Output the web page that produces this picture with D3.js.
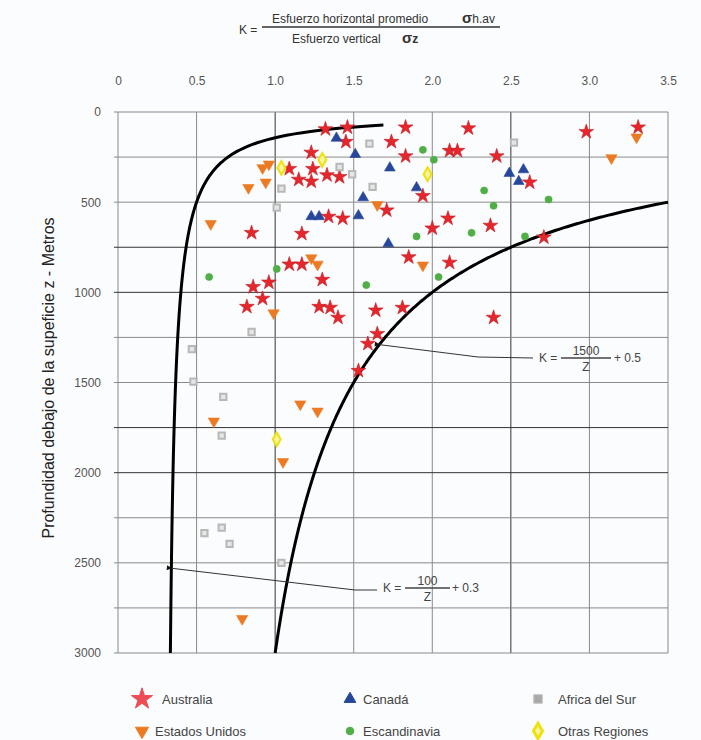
<!DOCTYPE html>
<html>
<head>
<meta charset="utf-8">
<script src="https://cdn.jsdelivr.net/npm/d3@7"></script>
<style>
body{margin:0;background:#fbfcfd}
text{font-family:"Liberation Sans",Arial,sans-serif}
</style>
</head>
<body>
<svg id="chart" width="701" height="740"></svg>
<script>
// tick labels
var kTicks = [0, 0.5, 1, 1.5, 2, 2.5, 3, 3.5]
var kTickLabels = ["0", "0.5", "1.0", "1.5", "2.0", "2.5", "3.0", "3.5"]
var zTicks = [0, 500, 1000, 1500, 2000, 2500, 3000]
var zGridLines = [0, 250, 500, 750, 1000, 1250, 1500, 1750, 2000, 2250, 2500, 2750, 3000]

// [K, z (m)]
var australia = [[1.32,95],[1.46,85],[1.45,165],[1.23,225],[1.09,315],[1.24,315],[1.15,375],
    [1.23,385],[1.33,350],[1.41,360],[1.34,580],[1.43,590],[0.85,670],[1.17,675],[1.09,845],
    [1.17,845],[1.30,930],[0.96,945],[0.86,970],[0.92,1035],[0.82,1080],[1.28,1080],[1.35,1085],
    [1.40,1140],[1.64,1100],[1.81,1085],[1.65,1230],[1.59,1285],[1.53,1435],[1.83,85],[1.74,165],
    [1.83,245],[1.71,545],[1.85,805],[2.23,90],[2.11,215],[2.16,215],[2.41,245],[2.98,110],
    [3.31,85],[2.62,390],[1.94,465],[2.10,590],[2.00,645],[2.37,630],[2.71,695],[2.11,835],[2.39,1140]]
var canada = [[1.39,145],[1.51,235],[1.73,310],[1.56,475],[1.23,580],[1.28,580],[1.53,575],
    [1.72,730],[2.49,340],[2.58,320],[2.55,385],[1.90,420]]
var estadosUnidos = [[0.92,310],[0.96,290],[0.94,390],[0.83,420],[0.59,620],[1.65,515],[1.23,810],
    [1.27,845],[0.99,1115],[3.30,140],[3.14,255],[1.94,850],[0.61,1715],[1.16,1620],[1.27,1660],
    [1.05,1940],[0.79,2810]]
var africaDelSur = [[1.60,175],[1.41,305],[1.49,345],[1.04,425],[1.01,530],[1.62,415],[0.85,1220],
    [0.47,1315],[0.48,1495],[0.67,1580],[0.66,1795],[0.55,2335],[0.66,2305],[0.71,2395],[1.04,2500],[2.52,170]]
var escandinavia = [[0.58,915],[1.01,870],[1.58,960],[1.94,210],[2.01,265],[2.33,435],[2.39,520],
    [2.74,485],[1.90,690],[2.25,670],[2.59,690],[2.04,915]]
var otrasRegiones = [[1.30,265],[1.04,310],[1.97,345],[1.01,1815]]

// K = a / z + b, as printed on the chart
var limitLow = {a: 100, b: 0.3, zFrom: 72}
var limitHigh = {a: 1500, b: 0.5, zFrom: 500}

var series = [
    {name: "Australia", data: australia, shape: d3.symbolStar, size: 68, fill: "#e5262c", stroke: "#c01c22", rot: 0, lsize: 140, lfill: "#ee4d55"},
    {name: "Canadá", data: canada, shape: d3.symbolTriangle, size: 50, fill: "#27479a", stroke: "#27479a", rot: 0, lsize: 60, lfill: "#27479a"},
    {name: "Africa del Sur", data: africaDelSur, shape: d3.symbolSquare, size: 40, fill: "#e6e6e6", stroke: "#b8b8b8", rot: 0, lsize: 70, lfill: "#a9a9a9"},
    {name: "Estados Unidos", data: estadosUnidos, shape: d3.symbolTriangle, size: 55, fill: "#ec7a22", stroke: "#ec7a22", rot: 180, lsize: 75, lfill: "#ec7a22"},
    {name: "Escandinavia", data: escandinavia, shape: d3.symbolCircle, size: 40, fill: "#4fae45", stroke: "#4fae45", rot: 0, lsize: 45, lfill: "#4fae45"},
    {name: "Otras Regiones", data: otrasRegiones, shape: d3.symbolDiamond, size: 55, fill: "#f7f3a0", stroke: "#ece20c", rot: 0, lsize: 70, lfill: "#f7f3a0"}
]

var svg = d3.select('#chart')
var x = d3.scaleLinear().domain([0, 3.5]).range([118, 668])
var y = d3.scaleLinear().domain([0, 3000]).range([112, 653])

svg.append('defs').append('marker')
    .attr('id', 'arrow')
    .attr('viewBox', '0 0 10 10')
    .attr('refX', 1).attr('refY', 5)
    .attr('markerWidth', 9).attr('markerHeight', 5)
    .attr('markerUnits', 'userSpaceOnUse')
    .attr('orient', 'auto-start-reverse')
    .append('path').attr('d', 'M0,5 L10,0 L10,10 Z').attr('fill', '#111')

// grid
var darkK = [1, 2.5]
var darkZ = [750, 1000, 1750, 2000]
var grid = svg.append('g')
grid.selectAll('line.v')
    .data(kTicks)
    .enter().append('line')
    .attr('x1', function(d){return x(d)}).attr('x2', function(d){return x(d)})
    .attr('y1', y(0)).attr('y2', y(3000))
    .attr('stroke', function(d){return darkK.indexOf(d) >= 0 ? '#333' : '#8a8a8a'})
    .attr('stroke-width', 1)
grid.selectAll('line.h')
    .data(zGridLines)
    .enter().append('line')
    .attr('x1', x(0) - 4).attr('x2', x(3.5))
    .attr('y1', function(d){return y(d)}).attr('y2', function(d){return y(d)})
    .attr('stroke', function(d){return darkZ.indexOf(d) >= 0 ? '#333' : '#8a8a8a'})
    .attr('stroke-width', 1)

// axes
var xAxis = svg.append('g')
    .attr('transform', 'translate(0,' + y(0) + ')')
    .call(d3.axisTop(x).tickValues(kTicks).tickSize(0).tickPadding(27)
          .tickFormat(function(d, i){return kTickLabels[i]}))
xAxis.select('.domain').remove()
xAxis.selectAll('text').attr('font-size', 12).attr('fill', '#555')
    .style('font-family', '"Liberation Sans",Arial,sans-serif')

var yAxis = svg.append('g')
    .attr('transform', 'translate(' + x(0) + ',0)')
    .call(d3.axisLeft(y).tickValues(zTicks).tickSize(0).tickPadding(17)
          .tickFormat(d3.format('d')))
yAxis.select('.domain').remove()
yAxis.selectAll('text').attr('font-size', 12).attr('fill', '#555')
    .style('font-family', '"Liberation Sans",Arial,sans-serif')

svg.append('text')
    .attr('transform', 'translate(54,' + 378 + ') rotate(-90)')
    .attr('text-anchor', 'middle')
    .attr('font-size', 16)
    .attr('fill', '#222')
    .text('Profundidad debajo de la supeficie z - Metros')

// limit curves
var line = d3.line()
    .x(function(d){return x(d[0])})
    .y(function(d){return y(d[1])})
function curvePoints(c){
    return d3.range(c.zFrom, 3001, 4).map(function(z){return [c.a / z + c.b, z]})
}
svg.append('path').datum(curvePoints(limitLow))
    .attr('d', line).attr('fill', 'none').attr('stroke', '#000').attr('stroke-width', 3)
svg.append('path').datum(curvePoints(limitHigh))
    .attr('d', line).attr('fill', 'none').attr('stroke', '#000').attr('stroke-width', 3)

// points
var pts = svg.append('g')
series.forEach(function(s){
    pts.selectAll(null)
	.data(s.data)
	.enter().append('path')
	.attr('d', d3.symbol().type(s.shape).size(s.size))
	.attr('transform', function(d){
	    return 'translate(' + x(d[0]) + ',' + y(d[1]) + ') rotate(' + s.rot + ')'})
	.attr('fill', s.fill)
	.attr('stroke', s.stroke)
	.attr('stroke-width', s.shape === d3.symbolSquare || s.shape === d3.symbolDiamond ? 2 : 0.6)
})

// annotations
function fraction(g, xs, yb, num, bar){
    g.append('text').attr('x', xs).attr('y', yb + 4).text('K =')
    g.append('line').attr('x1', xs + 22).attr('x2', xs + 22 + bar)
	.attr('y1', yb).attr('y2', yb).attr('stroke', '#444').attr('stroke-width', 1.4)
    g.append('text').attr('x', xs + 22 + bar / 2).attr('y', yb - 3).attr('text-anchor', 'middle').text(num)
    g.append('text').attr('x', xs + 22 + bar / 2).attr('y', yb + 13).attr('text-anchor', 'middle').text('Z')
}
var ann = svg.append('g').attr('font-size', 12).attr('fill', '#444')

var tipHigh = [limitHigh.a / 1290 + limitHigh.b, 1290]
ann.append('path')
    .attr('d', 'M' + x(tipHigh[0]) + ',' + y(tipHigh[1]) + ' L478,357 L533,358')
    .attr('fill', 'none').attr('stroke', '#333').attr('stroke-width', 1)
    .attr('marker-start', 'url(#arrow)')
fraction(ann, 539, 358, '1500', 50)
ann.append('text').attr('x', 614).attr('y', 362).text('+ 0.5')

var tipLow = [limitLow.a / 2530 + limitLow.b, 2530]
ann.append('path')
    .attr('d', 'M' + x(tipLow[0]) + ',' + y(tipLow[1]) + ' L355,590 L377,590')
    .attr('fill', 'none').attr('stroke', '#333').attr('stroke-width', 1)
    .attr('marker-start', 'url(#arrow)')
fraction(ann, 383, 588, '100', 45)
ann.append('text').attr('x', 452).attr('y', 592).text('+ 0.3')

// title formula
var ttl = svg.append('g').attr('font-size', 12).attr('fill', '#333')
ttl.append('text').attr('x', 239).attr('y', 34).text('K =')
ttl.append('line').attr('x1', 262).attr('x2', 500).attr('y1', 27).attr('y2', 27)
    .attr('stroke', '#333').attr('stroke-width', 1.4)
var t1 = ttl.append('text').attr('x', 272).attr('y', 23)
t1.append('tspan').text('Esfuerzo horizontal promedio')
t1.append('tspan').attr('x', 462).attr('font-weight', 'bold').attr('font-size', 15).text('σ')
t1.append('tspan').text('h.av')
var t2 = ttl.append('text').attr('x', 292).attr('y', 43)
t2.append('tspan').text('Esfuerzo vertical')
t2.append('tspan').attr('x', 402).attr('font-weight', 'bold').attr('font-size', 15).text('σ')
t2.append('tspan').attr('font-weight', 'bold').text('z')

// legend
var legendCols = [142, 350, 538]
var legendRows = [699, 731]
var leg = svg.append('g')
series.forEach(function(s, i){
    var lx = legendCols[i % 3], ly = legendRows[Math.floor(i / 3)]
    leg.append('path')
	.attr('d', d3.symbol().type(s.shape).size(s.lsize))
	.attr('transform', 'translate(' + lx + ',' + ly + ') rotate(' + s.rot + ')')
	.attr('fill', s.lfill)
	.attr('stroke', s.shape === d3.symbolDiamond ? s.stroke : (s.shape === d3.symbolSquare ? '#bbb' : s.lfill))
	.attr('stroke-width', s.shape === d3.symbolDiamond ? 3 : 1)
    leg.append('text')
	.attr('x', lx + (s.shape === d3.symbolSquare || s.shape === d3.symbolDiamond ? 20 : (i === 0 ? 20 : 13)))
	.attr('y', ly + 5)
	.attr('font-size', 13)
	.attr('fill', '#444')
	.text(s.name)
})
</script>
</body>
</html>
